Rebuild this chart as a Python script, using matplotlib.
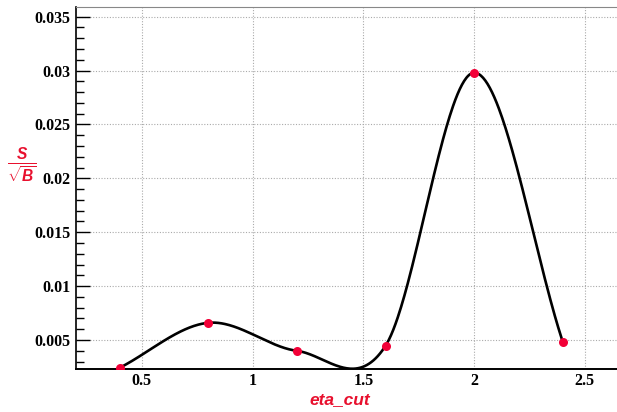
import numpy as np
import matplotlib
matplotlib.use("Agg")
import matplotlib.pyplot as plt
from matplotlib.ticker import MultipleLocator

# values
eta_cut = [0.4, 0.8, 1.2, 1.6, 2.0, 2.4]
s_over_sqrtb = [0.00243, 0.0066, 0.0040, 0.00447, 0.0298, 0.00484]

x_ticks = [0.5, 1.0, 1.5, 2.0, 2.5]
x_labels = ["0.5", "1", "1.5", "2", "2.5"]
y_ticks = [0.005, 0.01, 0.015, 0.02, 0.025, 0.03, 0.035]
y_labels = ["0.005", "0.01", "0.015", "0.02", "0.025", "0.03", "0.035"]


def smooth_curve(x, y, per_seg=80):
    # Catmull-Rom style hermite curve, close to ROOT's "C" draw option
    x = np.asarray(x, float)
    y = np.asarray(y, float)
    m = np.gradient(y, x, edge_order=1)
    m[1:-1] = (y[2:] - y[:-2]) / (x[2:] - x[:-2])
    xs_all, ys_all = [], []
    for i in range(len(x) - 1):
        h = x[i + 1] - x[i]
        t = np.linspace(0, 1, per_seg, endpoint=(i == len(x) - 2))
        h00 = 2 * t**3 - 3 * t**2 + 1
        h10 = t**3 - 2 * t**2 + t
        h01 = -2 * t**3 + 3 * t**2
        h11 = t**3 - t**2
        xs_all.append(x[i] + t * h)
        ys_all.append(h00 * y[i] + h10 * h * m[i] + h01 * y[i + 1] + h11 * h * m[i + 1])
    return np.concatenate(xs_all), np.concatenate(ys_all)


plt.rcParams["mathtext.fontset"] = "custom"
plt.rcParams["mathtext.it"] = "Liberation Sans:italic:bold"
plt.rcParams["mathtext.rm"] = "Liberation Sans:bold"
plt.rcParams["mathtext.bf"] = "Liberation Sans:bold"

fig = plt.figure(figsize=(6.17, 4.12), dpi=100)
ax = fig.add_axes([0.123, 0.104, 0.877, 0.879])

xs, ys = smooth_curve(eta_cut, s_over_sqrtb)
ax.plot(xs, ys, color="black", lw=1.9, zorder=3)
ax.plot(eta_cut, s_over_sqrtb, "o", color="#f20037", ms=6.5, mec="none", zorder=4)

ax.set_xlim(0.202, 2.645)
ax.set_ylim(0.0023, 0.0359)

ax.set_xticks(x_ticks)
ax.set_xticklabels(x_labels)
ax.set_yticks(y_ticks)
ax.set_yticklabels(y_labels)
ax.yaxis.set_minor_locator(MultipleLocator(0.001))

ax.tick_params(axis="x", length=0, pad=3)
ax.tick_params(axis="y", which="major", direction="in", length=10, width=1, pad=4)
ax.tick_params(axis="y", which="minor", direction="in", length=5.5, width=1)
for lab in ax.get_xticklabels() + ax.get_yticklabels():
    lab.set_fontfamily("Liberation Serif")
    lab.set_fontweight("bold")
    lab.set_fontsize(11.5)

ax.grid(True, which="major", color="#aaaaaa", ls=(0, (1, 1.5)), lw=0.8)

ax.spines["right"].set_visible(False)
ax.spines["top"].set_color("#888888")
ax.spines["left"].set_linewidth(1.2)
ax.spines["bottom"].set_linewidth(1.4)

fig.text(0.036, 0.6, r"$\frac{S}{\sqrt{B}}$", color="#e8102e", fontsize=16,
         ha="center", va="center")
fig.text(0.551, 0.03, "eta_cut", color="#e8102e", fontsize=12.5,
         family="Liberation Sans", weight="bold", style="italic",
         ha="center", va="center")

fig.savefig("out.png", dpi=100)
